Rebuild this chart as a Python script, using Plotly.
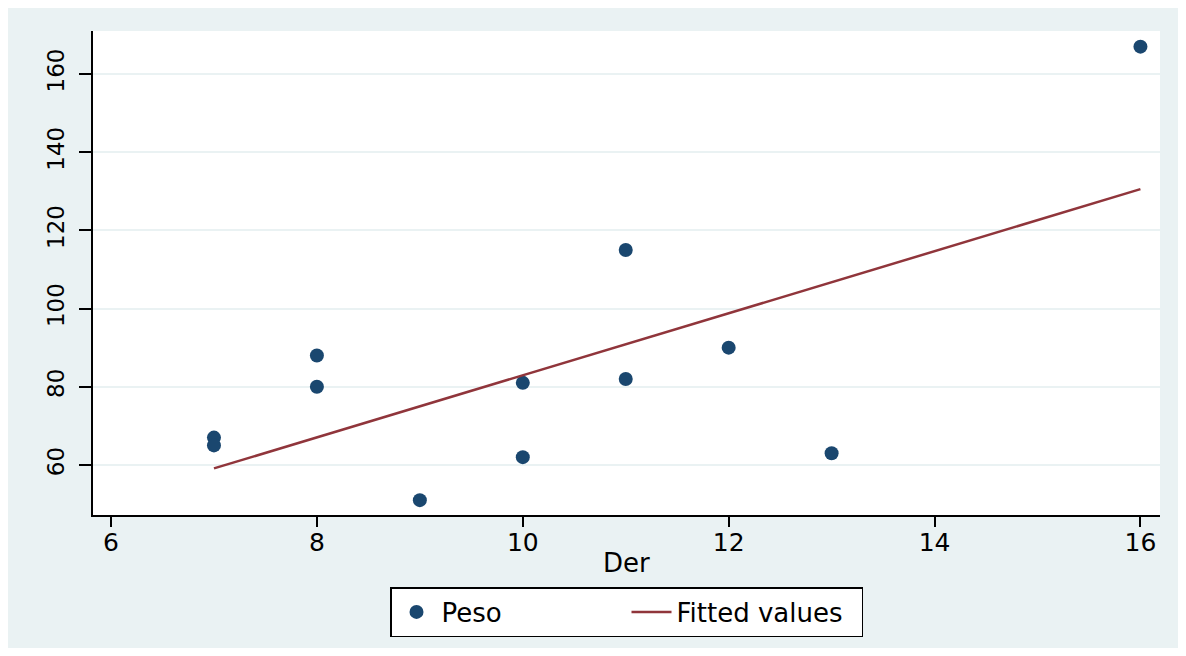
import numpy as np
import plotly.graph_objects as go

# Data
der = [7, 7, 8, 8, 9, 10, 10, 11, 11, 12, 13, 16]
peso = [67, 65, 88, 80, 51, 81, 62, 115, 82, 90, 63, 167]
x_ticks = [6, 8, 10, 12, 14, 16]
y_ticks = [60, 80, 100, 120, 140, 160]
x_title = "Der"

# Linear fit (Fitted values)
slope, intercept = np.polyfit(der, peso, 1)
fit_x = [min(der), max(der)]
fit_y = [intercept + slope * v for v in fit_x]

NAVY = "#1a476f"
MAROON = "#90353b"
BG = "#eaf2f3"
FONT = "DejaVu Sans"

fig = go.Figure()
fig.add_trace(go.Scatter(
    x=der, y=peso, mode="markers", name="Peso",
    marker=dict(color=NAVY, size=14, symbol="circle", line=dict(width=0)),
))
fig.add_trace(go.Scatter(
    x=fit_x, y=fit_y, mode="lines", name="Fitted values",
    line=dict(color=MAROON, width=2.5),
))

# page body has an 8px margin; work in reference pixels minus 8
OFF = 8
W, H = 1186 - OFF, 656 - OFF
ml, mt = 93 - OFF, 31 - OFF
mr = W - (1160 - OFF)
mb = H - (515 - OFF)
pw, ph = W - ml - mr, H - mt - mb

def px2paper_x(px):
    return (px - OFF - ml) / pw

def py2paper_y(py):
    return (H - mb - (py - OFF)) / ph

fig.update_layout(
    width=W, height=H,
    margin=dict(l=ml, r=mr, t=mt, b=mb, pad=0),
    paper_bgcolor="white",
    plot_bgcolor="white",
    font=dict(family=FONT, size=24, color="black"),
    showlegend=True,
    legend=dict(
        orientation="h", x=0.5, xanchor="center",
        y=py2paper_y(587), yanchor="top",
        bordercolor="black", borderwidth=1.5, bgcolor="white",
        font=dict(family=FONT, size=26, color="black"),
        itemwidth=40, entrywidth=180, entrywidthmode="pixels",
        tracegroupgap=0,
    ),
    shapes=[
        dict(type="rect", xref="paper", yref="paper", layer="below",
             x0=px2paper_x(5), x1=px2paper_x(1180),
             y0=py2paper_y(648), y1=py2paper_y(6),
             fillcolor=BG, line=dict(width=0)),
        dict(type="rect", xref="paper", yref="paper", layer="below",
             x0=0, x1=1, y0=0, y1=1,
             fillcolor="white", line=dict(width=0)),
    ],
    annotations=[
        dict(text=x_title, xref="paper", yref="paper",
             x=0.5, y=py2paper_y(563), xanchor="center", yanchor="middle",
             showarrow=False, font=dict(family=FONT, size=26, color="black")),
    ],
)

fig.update_xaxes(
    range=[5.825, 16.19], tickvals=x_ticks,
    showgrid=False, zeroline=False,
    showline=True, linecolor="black", linewidth=1.5,
    ticks="outside", ticklen=10, tickwidth=1.5, tickcolor="black",
    ticklabelstandoff=-6,
    tickfont=dict(family=FONT, size=25),
)
fig.update_yaxes(
    range=[47.2, 171.0], tickvals=y_ticks,
    showgrid=True, gridcolor=BG, gridwidth=2,
    zeroline=False,
    showline=True, linecolor="black", linewidth=1.5,
    ticks="outside", ticklen=12, tickwidth=1.5, tickcolor="black",
    tickangle=-90, ticklabelstandoff=6,
    tickfont=dict(family=FONT, size=23),
)

fig.write_html("out.html")
